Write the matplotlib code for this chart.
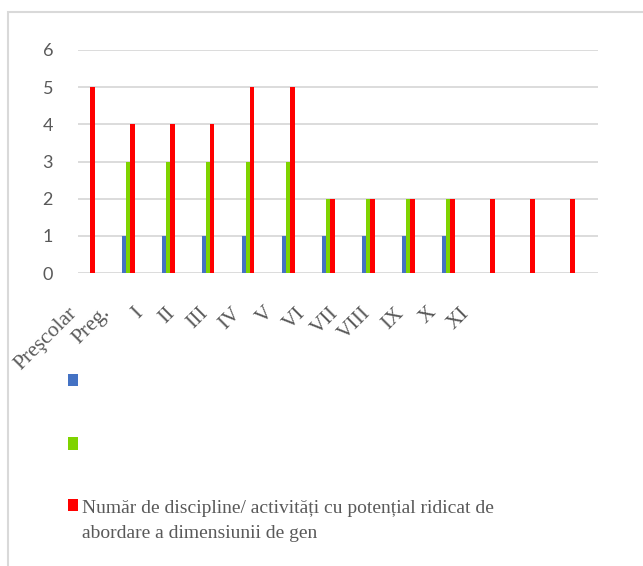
import numpy as np
import matplotlib
matplotlib.use("Agg")
import matplotlib.pyplot as plt
import matplotlib.transforms as mtransforms
from matplotlib.patches import Rectangle
from matplotlib.legend_handler import HandlerPatch

# data
categories = ["Preşcolar", "Preg.", "I", "II", "III", "IV", "V", "VI", "VII",
              "VIII", "IX", "X", "XI"]
blue_vals = [0, 1, 1, 1, 1, 1, 1, 1, 1, 1, 0, 0, 0]
green_vals = [0, 3, 3, 3, 3, 3, 2, 2, 2, 2, 0, 0, 0]
red_vals = [5, 4, 4, 4, 5, 5, 2, 2, 2, 2, 2, 2, 2]
series_names = ["", "",
                "Număr de discipline/ activități cu potențial ridicat de\n"
                "abordare a dimensiunii de gen"]
colors = ["#4472C4", "#7FD300", "#FF0000"]
grey = "#595959"
grid_col = "#D9D9D9"

fig = plt.figure(figsize=(6.43, 5.66), dpi=100)
ax = fig.add_axes([78 / 643, 1 - 273 / 566, 520 / 643, 223 / 566])

x = np.arange(len(categories))
w = 0.105
offsets = [-0.35, -0.245, -0.14]
bars = []
for vals, off, c in zip([blue_vals, green_vals, red_vals], offsets, colors):
    bars.append(ax.bar(x + off, vals, width=w, color=c, zorder=3))

ax.set_xlim(-0.5, len(categories) - 0.5)
ax.set_ylim(0, 6)
ax.set_yticks(range(7))
ax.yaxis.grid(True, color=grid_col, lw=1.3, zorder=0)
for s in ax.spines.values():
    s.set_visible(False)
ax.tick_params(axis="y", length=0, pad=18, labelsize=13, labelcolor=grey)
for t in ax.get_yticklabels():
    t.set_family("Lato")
ax.set_xticks([])

# category labels sit on a tighter spacing than the bars in the original
label_x = -0.76 + 0.8167 * x
lab_tr = ax.get_xaxis_transform() + mtransforms.ScaledTranslation(
    0, -22 / 72, fig.dpi_scale_trans)
for lx, name in zip(label_x, categories):
    ax.text(lx, 0, name, transform=lab_tr, rotation=45, ha="right", va="top",
            rotation_mode="anchor", family="Liberation Serif",
            fontsize=15.5, color=grey)


def square(legend, orig_handle, xdescent, ydescent, width, height, fontsize):
    return Rectangle((-xdescent + width - 0.52 * fontsize, -ydescent),
                     0.52 * fontsize, 0.64 * fontsize)


def square_up(legend, orig_handle, xdescent, ydescent, width, height, fontsize):
    return Rectangle((-xdescent + width - 0.52 * fontsize, -ydescent + 0.85 * fontsize),
                     0.52 * fontsize, 0.64 * fontsize)


handles = [b.patches[0] for b in bars]
leg = fig.legend(handles, series_names, loc="upper left",
                 bbox_to_anchor=(47 / 643, 1 - 355 / 566),
                 frameon=False, prop={"family": "Liberation Serif", "size": 14},
                 labelcolor=grey, handlelength=0.7, handletextpad=0.2,
                 labelspacing=2.37,
                 handler_map={handles[0]: HandlerPatch(patch_func=square),
                              handles[1]: HandlerPatch(patch_func=square),
                              handles[2]: HandlerPatch(patch_func=square_up)})
leg.texts[2].set_linespacing(1.65)

# light frame around the chart area
fig.add_artist(Rectangle((8 / 643, -0.1), 1.2, 1.1 - 12 / 566,
                         transform=fig.transFigure, fill=False,
                         ec=grid_col, lw=1.5))

fig.savefig("out.png", dpi=100)
